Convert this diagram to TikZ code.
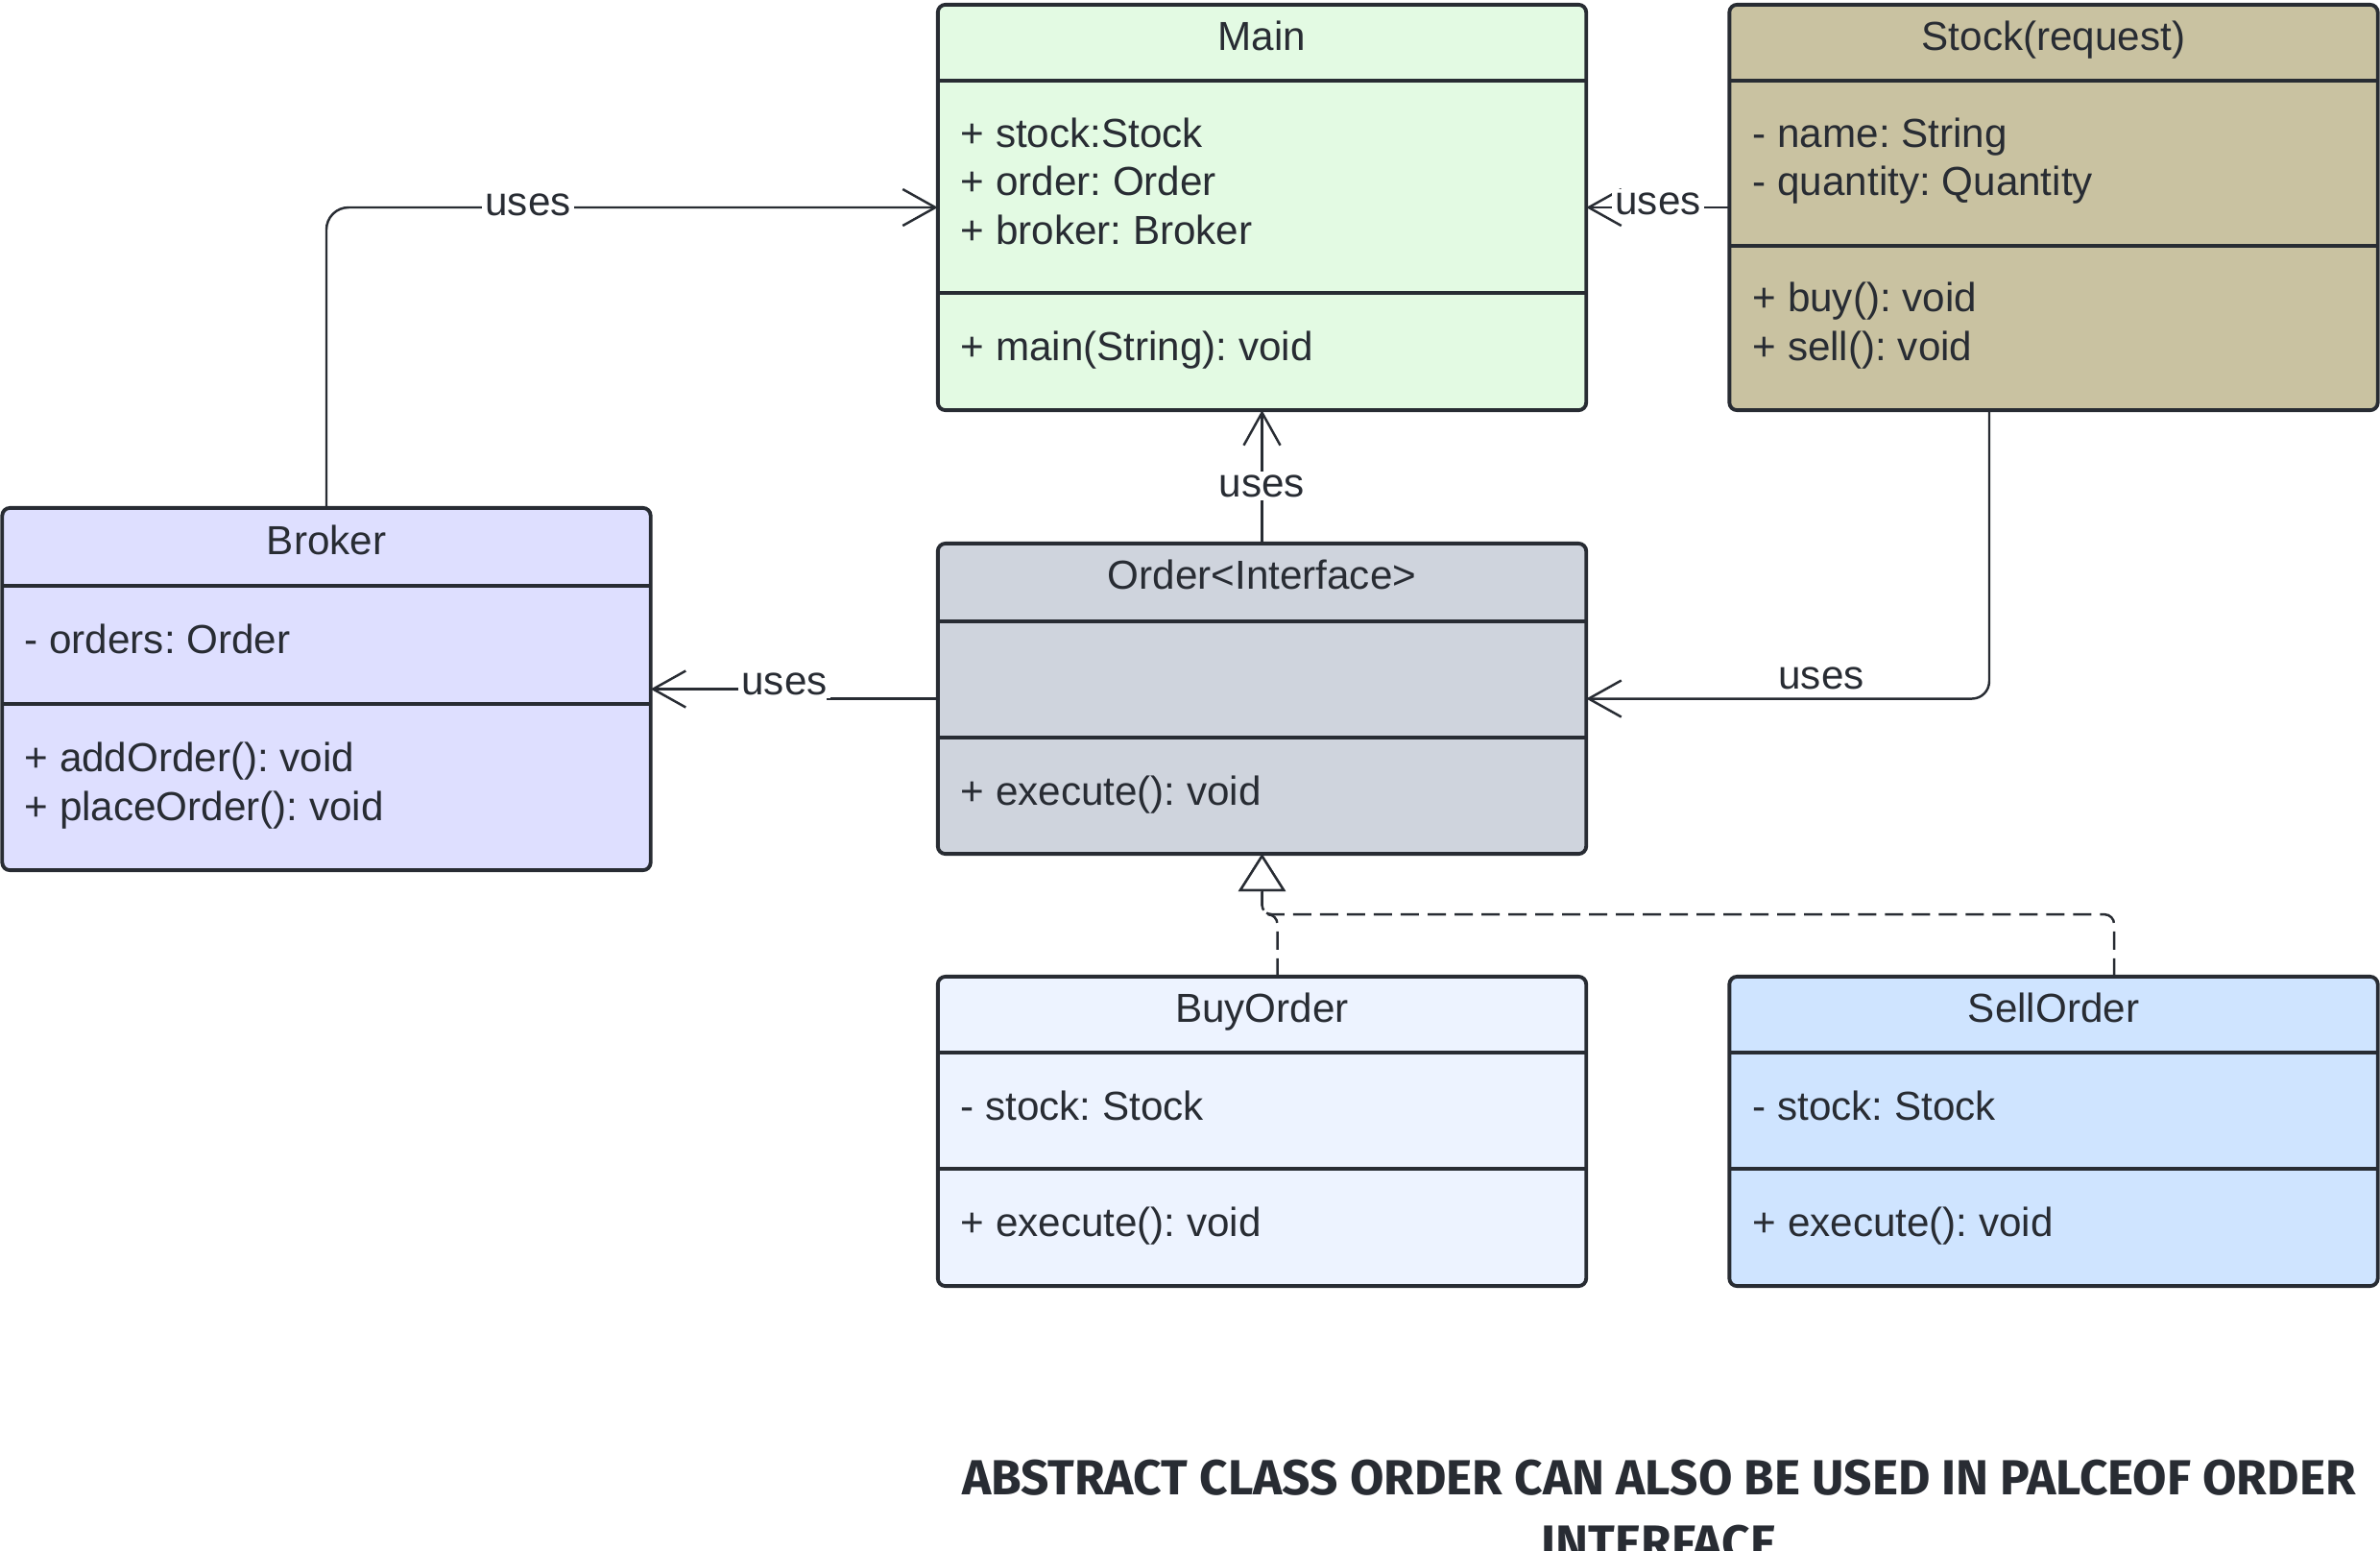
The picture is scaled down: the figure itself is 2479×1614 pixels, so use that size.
\documentclass[tikz,border=0pt]{standalone}
\usepackage{fontspec}
\setmainfont{Liberation Sans}
\newfontfamily\notefont{Fira Sans}
\usetikzlibrary{arrows.meta}
\frenchspacing
\definecolor{ink}{RGB}{40,44,51}
\definecolor{mainfill}{RGB}{227,250,227}
\definecolor{stockfill}{RGB}{201,194,161}
\definecolor{brokerfill}{RGB}{222,223,255}
\definecolor{orderfill}{RGB}{207,212,221}
\definecolor{buyfill}{RGB}{237,243,255}
\definecolor{sellfill}{RGB}{207,228,255}
\tikzset{
    classbox/.style={draw=ink, line width=1.1pt, rounded corners=0.08cm, inner sep=0pt, outer sep=0pt, minimum width=6.75cm},
    divider/.style={draw=ink, line width=1.1pt},
    title/.style={anchor=base, inner sep=0pt, text=ink, font=\fontsize{12}{14.4}\selectfont},
    member/.style={anchor=base west, inner sep=0pt, text=ink, font=\fontsize{12}{14.4}\selectfont},
    uses/.style={fill=white, inner sep=1pt, text=ink, font=\fontsize{12}{14.4}\selectfont},
    link/.style={draw=ink, line width=0.7pt, -{Straight Barb[length=0.34cm, width=0.38cm]}},
    realize/.style={draw=ink, line width=0.7pt, dash pattern=on 0.19cm off 0.09cm, -{Triangle[open, length=0.39cm, width=0.49cm, fill=white]}},
    note/.style={align=center, inner sep=0pt, text=ink, font=\notefont\bfseries\fontsize{14.6}{19.3}\selectfont}
}
\begin{document}
\begin{tikzpicture}[x=0.01cm, y=-0.01cm]
        \useasboundingbox (0,0) rectangle (2479,1614);
        \node[classbox, fill=mainfill, minimum height=4.22cm] (main) at (1314.5,216) {};
        \node[classbox, fill=stockfill, minimum height=4.22cm] (stock) at (2139,216) {};
        \node[classbox, fill=brokerfill, minimum height=3.77cm] (broker) at (340,717.5) {};
        \node[classbox, fill=orderfill, minimum height=3.23cm] (order) at (1314.5,727.5) {};
        \node[classbox, fill=buyfill, minimum height=3.22cm] (buy) at (1314.5,1178) {};
        \node[classbox, fill=sellfill, minimum height=3.22cm] (sell) at (2139,1178) {};
        \path[divider] (main.west |- 0,84) -- (main.east |- 0,84);
        \path[divider] (main.west |- 0,305) -- (main.east |- 0,305);
        \path[divider] (stock.west |- 0,84) -- (stock.east |- 0,84);
        \path[divider] (stock.west |- 0,256) -- (stock.east |- 0,256);
        \path[divider] (broker.west |- 0,610) -- (broker.east |- 0,610);
        \path[divider] (broker.west |- 0,733) -- (broker.east |- 0,733);
        \path[divider] (order.west |- 0,647) -- (order.east |- 0,647);
        \path[divider] (order.west |- 0,768) -- (order.east |- 0,768);
        \path[divider] (buy.west |- 0,1096) -- (buy.east |- 0,1096);
        \path[divider] (buy.west |- 0,1217) -- (buy.east |- 0,1217);
        \path[divider] (sell.west |- 0,1096) -- (sell.east |- 0,1096);
        \path[divider] (sell.west |- 0,1217) -- (sell.east |- 0,1217);
        \node[title] (mainname) at (1314.5,52) {Main};
        \node[member] (mainA) at (1000,153) {+ stock:Stock};
        \node[member] (mainB) at (1000,203) {+ order: Order};
        \node[member] (mainC) at (1000,254) {+ broker: Broker};
        \node[member] (mainD) at (1000,375) {+ main(String): void};
        \node[title] (stockname) at (2139,52) {Stock(request)};
        \node[member] (stockA) at (1825,153) {- name: String};
        \node[member] (stockB) at (1825,203) {- quantity: Quantity};
        \node[member] (stockC) at (1825,324) {+ buy(): void};
        \node[member] (stockD) at (1825,375) {+ sell(): void};
        \node[title] (brokername) at (340,577) {Broker};
        \node[member] (brokerA) at (25,680) {- orders: Order};
        \node[member] (brokerB) at (25,803) {+ addOrder(): void};
        \node[member] (brokerC) at (25,854) {+ placeOrder(): void};
        \node[title] (ordername) at (1314.5,613) {Order<Interface>};
        \node[member] (orderA) at (1000,838) {+ execute(): void};
        \node[title] (buyname) at (1314.5,1064) {BuyOrder};
        \node[member] (buyA) at (1000,1166) {- stock: Stock};
        \node[member] (buyB) at (1000,1287) {+ execute(): void};
        \node[title] (sellname) at (2139,1064) {SellOrder};
        \node[member] (sellA) at (1825,1166) {- stock: Stock};
        \node[member] (sellB) at (1825,1287) {+ execute(): void};
        \path[link, rounded corners=0.23cm] (broker.north) |- (main.west);
        \node[uses] (uses1) at (550,213) {uses};
        \path[link] (stock.west) -- (main.east);
        \node[uses] (uses2) at (1727,212) {uses};
        \path[link] (order.north) -- (main.south);
        \node[uses] (uses3) at (1314.5,506) {uses};
        \path[link, rounded corners=0.18cm] ([xshift=-0.67cm]stock.south) |- (order.east);
        \node[uses, anchor=base, fill=none] (uses4) at (1897,717) {uses};
        \path[link] (order.west) -- ++(-115,0) |- (broker.east);
        \node[uses] (uses5) at (817,712) {uses};
        \path[realize, rounded corners=0.1cm] ([xshift=0.63cm]sell.north) |- ([yshift=-0.63cm]order.south) -- (order.south);
        \path[realize, rounded corners=0.1cm] ([xshift=0.16cm]buy.north) |- ([yshift=-0.63cm]order.south) -- (order.south);
        \node[note, anchor=north] (abstractnote) at (1728,1519) {ABSTRACT CLASS ORDER CAN ALSO BE USED IN PALCEOF ORDER\\INTERFACE};
\end{tikzpicture}
\end{document}
